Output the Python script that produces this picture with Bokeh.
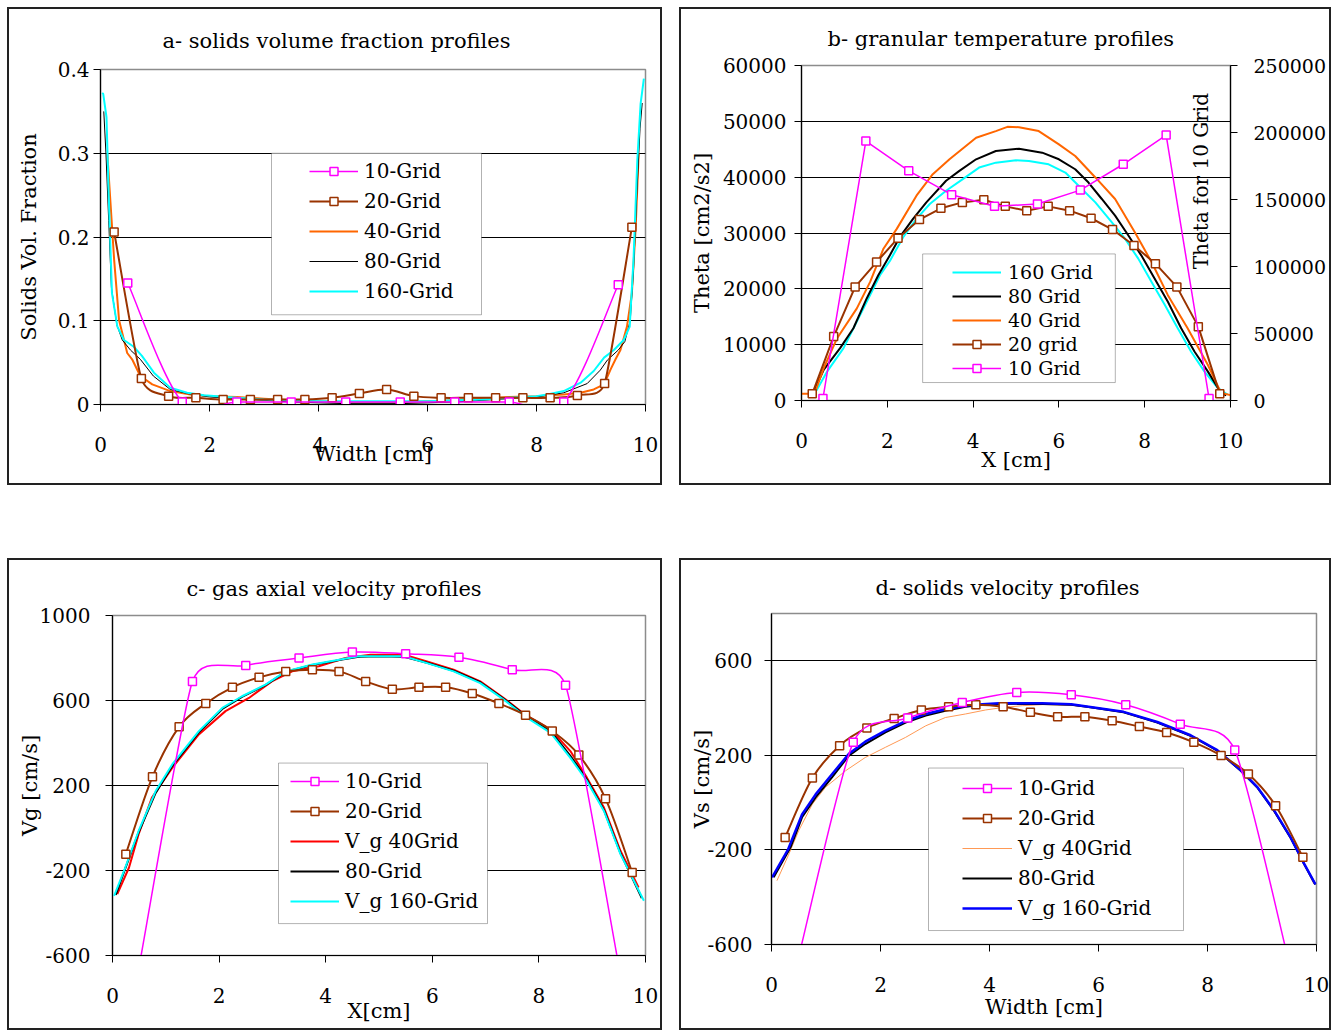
import math
from bokeh.plotting import figure
from bokeh.models import (Range1d, LinearAxis, FixedTicker, CustomJSTickFormatter, Legend,
                          LegendItem, BoxAnnotation, Label, ColumnDataSource, Spacer, Title)
from bokeh.layouts import row, column
from bokeh.embed import file_html
from bokeh.resources import INLINE

FONT = "DejaVu Serif"

# ---------------------------------------------------------------- data
X10 = [0.5, 1.5, 2.5, 3.5, 4.5, 5.5, 6.5, 7.5, 8.5, 9.5]
X20 = [0.25, 0.75, 1.25, 1.75, 2.25, 2.75, 3.25, 3.75, 4.25, 4.75,
       5.25, 5.75, 6.25, 6.75, 7.25, 7.75, 8.25, 8.75, 9.25, 9.75]

# a - solids volume fraction
A_Y10 = [0.145, 0.003, 0.003, 0.003, 0.003, 0.003, 0.003, 0.003, 0.003, 0.143]
A_Y20 = [0.206, 0.031, 0.0099, 0.008, 0.006, 0.006, 0.006, 0.006, 0.008, 0.013,
         0.018, 0.010, 0.008, 0.008, 0.008, 0.008, 0.008, 0.0107, 0.025, 0.2115]
A_X40 = [0.125, 0.25, 0.34, 0.49, 0.58, 0.73, 0.95, 1.28, 1.65, 2.0, 2.5, 3.0, 3.5, 4.0,
         4.5, 5.0, 5.5, 6.0, 6.5, 7.0, 7.5, 8.0, 8.5, 8.81, 9.05, 9.24, 9.36, 9.45, 9.54,
         9.66, 9.75, 9.82, 9.875]
A_Y40 = [0.30, 0.173, 0.101, 0.0615, 0.054, 0.034, 0.024, 0.016, 0.012, 0.010, 0.009, 0.007,
         0.005, 0.004, 0.003, 0.003, 0.003, 0.004, 0.005, 0.007, 0.009, 0.010, 0.012, 0.014,
         0.018, 0.024, 0.042, 0.054, 0.065, 0.093, 0.133, 0.212, 0.30]
A_X80 = [0.06, 0.1, 0.15, 0.2, 0.3, 0.4, 0.55, 0.73, 0.97, 1.28, 1.6, 2.0, 2.5, 3.0, 3.5,
         4.0, 4.5, 5.0, 5.5, 6.0, 6.5, 7.0, 7.5, 8.0, 8.5, 8.93, 9.17, 9.3, 9.5, 9.62,
         9.72, 9.78, 9.84, 9.9, 9.94]
A_Y80 = [0.35, 0.30, 0.22, 0.14, 0.095, 0.077, 0.065, 0.054, 0.034, 0.018, 0.013, 0.009,
         0.007, 0.005, 0.003, 0.002, 0.001, 0.001, 0.001, 0.002, 0.003, 0.005, 0.007, 0.009,
         0.014, 0.025, 0.041, 0.053, 0.065, 0.075, 0.10, 0.16, 0.25, 0.33, 0.36]
A_X160 = [0.03, 0.05, 0.11, 0.15, 0.21, 0.31, 0.43, 0.61, 0.76, 0.98, 1.28, 1.59, 1.9, 2.5,
          3.0, 3.5, 4.0, 4.5, 5.0, 5.5, 6.0, 6.5, 7.0, 7.5, 8.0, 8.2, 8.5, 8.81, 9.05, 9.24,
          9.42, 9.6, 9.71, 9.78, 9.85, 9.91, 9.97]
A_Y160 = [0.372, 0.371, 0.343, 0.252, 0.133, 0.093, 0.077, 0.069, 0.058, 0.038, 0.020, 0.014,
          0.011, 0.008, 0.006, 0.005, 0.004, 0.004, 0.004, 0.004, 0.004, 0.005, 0.006, 0.008,
          0.010, 0.012, 0.016, 0.026, 0.040, 0.056, 0.065, 0.077, 0.093, 0.173, 0.292, 0.359,
          0.389]

# b - granular temperature
B_Y10 = [1500, 193600, 171400, 153600, 144900, 146600, 157000, 176300, 198100, 1500]
B_Y20 = [1190, 11450, 20350, 24800, 29080, 32400, 34420, 35480, 35960, 34770,
         34000, 34770, 34000, 32640, 30620, 27770, 24510, 20350, 13230, 1190]
B_X40 = [-0.1, 0.3, 0.52, 0.83, 1.29, 1.6, 1.91, 2.22, 2.68, 3.06, 3.45, 4.07, 4.53, 4.8,
         5.07, 5.53, 6.0, 6.38, 6.85, 7.31, 7.77, 8.16, 8.54, 9.0, 9.47, 9.78, 10.1]
B_Y40 = [1200, 1200, 5820, 11160, 16500, 21240, 27180, 30740, 36680, 40530, 43200, 47050,
         48250, 49010, 48950, 48250, 45880, 43800, 39950, 36090, 30150, 24800, 18870, 12940,
         6410, 1370, 770]
B_X80 = [0.3, 0.52, 0.9, 1.21, 1.52, 1.79, 2.06, 2.29, 2.6, 2.91, 3.37, 3.68, 4.07, 4.53,
         5.07, 5.61, 6.0, 6.38, 6.69, 7.0, 7.31, 7.62, 7.92, 8.23, 8.54, 8.85, 9.16, 9.47,
         9.78, 9.9]
B_Y80 = [1800, 5520, 9380, 12940, 18280, 22430, 26000, 29250, 32520, 35490, 39350, 41130,
         43200, 44690, 45100, 44390, 43200, 41420, 39040, 36090, 33120, 29550, 26000, 21840,
         17680, 12940, 8780, 5220, 1370, 900]
B_X160 = [0.35, 0.6, 0.98, 1.29, 1.6, 1.83, 2.06, 2.37, 2.68, 2.99, 3.37, 3.76, 4.14, 4.53,
          5.0, 5.3, 5.76, 6.15, 6.46, 6.85, 7.23, 7.54, 7.85, 8.16, 8.47, 8.77, 9.08, 9.39,
          9.7, 9.93]
B_Y160 = [1800, 5220, 9380, 14120, 18870, 22430, 25000, 29250, 32520, 35190, 37560, 39640,
          41720, 42600, 43020, 42900, 42300, 40830, 38450, 35490, 31930, 28970, 25410, 21240,
          17090, 12940, 8780, 5220, 2260, 1070]

# c - gas axial velocity
C_Y10 = [-650, 690, 765, 800, 828, 820, 803, 745, 672, -650]
C_Y20 = [-123, 241, 476, 586, 662, 709, 737, 745, 737, 690,
         653, 662, 662, 633, 586, 531, 456, 343, 138, -209]
C_X40 = [0.09, 0.31, 0.49, 0.74, 1.12, 1.62, 2.12, 2.56, 2.99, 3.37, 3.87, 4.37, 4.84, 5.47,
         5.9, 6.4, 6.9, 7.34, 7.78, 8.22, 8.59, 8.9, 9.22, 9.53, 9.87]
C_Y40 = [-311, -186, -29, 143, 283, 440, 550, 612, 690, 737, 761, 800, 815, 815, 784, 745,
         690, 612, 526, 464, 362, 237, 96, -107, -280]
C_X80 = [0.06, 0.24, 0.49, 0.81, 1.12, 1.62, 2.06, 2.43, 2.87, 3.25, 3.75, 4.25, 4.62, 5.0,
         5.47, 5.9, 6.4, 6.9, 7.34, 7.78, 8.22, 8.59, 8.9, 9.22, 9.53, 9.93]
C_Y80 = [-315, -190, -20, 165, 292, 450, 560, 617, 672, 735, 767, 790, 806, 808, 806, 778,
         740, 686, 608, 522, 456, 340, 228, 85, -118, -330]
C_X160 = [0.03, 0.24, 0.49, 0.81, 1.12, 1.62, 2.06, 2.43, 2.87, 3.25, 3.75, 4.25, 4.62, 5.0,
          5.47, 5.9, 6.4, 6.9, 7.34, 7.78, 8.22, 8.59, 8.9, 9.22, 9.53, 9.97]
C_Y160 = [-319, -186, -14, 174, 299, 456, 565, 620, 675, 737, 769, 792, 808, 808, 808, 776,
          737, 682, 604, 518, 448, 330, 221, 80, -123, -342]

# d - solids velocity
D_Y10 = [-650, 255, 358, 424, 466, 456, 414, 332, 223, -680]
D_Y20 = [-147, 104, 241, 316, 356, 392, 406, 414, 406, 382,
         363, 363, 346, 322, 297, 255, 199, 121, -13, -231]
D_X40 = [0.1, 0.32, 0.5, 0.75, 0.99, 1.36, 1.72, 2.09, 2.46, 2.83, 3.19, 3.56, 3.93, 4.23,
         4.6, 5.0, 5.5, 6.0, 6.5, 7.0, 7.5, 8.0, 8.5, 9.0, 9.5, 9.75, 9.95]
D_Y40 = [-330, -217, -118, -6, 65, 135, 191, 234, 276, 325, 360, 375, 392, 402, 410, 415,
         412, 400, 380, 345, 300, 245, 160, 40, -140, -250, -344]
D_X80 = [0.04, 0.35, 0.56, 0.81, 1.11, 1.42, 1.72, 2.09, 2.46, 2.83, 3.19, 3.56, 3.87, 4.17,
         4.6, 4.97, 5.5, 5.85, 6.46, 7.08, 7.69, 8.18, 8.61, 8.91, 9.22, 9.52, 9.77, 9.98]
D_Y80 = [-316, -189, -62, 22, 107, 199, 248, 297, 339, 368, 389, 406, 414, 417, 418, 417,
         414, 403, 382, 339, 283, 220, 135, 65, -34, -147, -259, -346]
D_X160 = [0.01, 0.3, 0.56, 0.81, 1.11, 1.42, 1.72, 2.09, 2.46, 2.83, 3.19, 3.56, 3.87, 4.17,
          4.6, 4.97, 5.5, 5.85, 6.46, 7.08, 7.69, 8.18, 8.61, 8.91, 9.22, 9.52, 9.77, 9.98]
D_Y160 = [-316, -200, -50, 35, 120, 207, 258, 305, 345, 375, 395, 410, 416, 420, 420, 420,
          416, 405, 384, 341, 285, 222, 137, 67, -32, -145, -257, -346]

X_TICKS = [0, 2, 4, 6, 8, 10]
A_TICKS = [0, 0.1, 0.2, 0.3, 0.4]
B_TICKS = [0, 10000, 20000, 30000, 40000, 50000, 60000]
B_RTICKS = [0, 50000, 100000, 150000, 200000, 250000]
C_TICKS = [-600, -200, 200, 600, 1000]
D_TICKS = [-600, -200, 200, 600]

MAG, BRN, ORG, CYN = "#FF00FF", "#993300", "#FF6600", "#00FFFF"
RED, BLU, LOR = "#FF0000", "#0000FF", "#FF9955"
NAN = float("nan")


# ---------------------------------------------------------------- helpers
class Geo:
    def __init__(self, fig, frame, xr, yr):
        self.fig, self.frame, self.xr, self.yr = fig, frame, xr, yr
        fl, fr, ft, fb = frame
        self.kx = (fr - fl) / (xr[1] - xr[0])
        self.ky = (fb - ft) / (yr[1] - yr[0])

    def dx(self, px):
        return self.xr[0] + (px - self.frame[0]) / self.kx

    def dy(self, py):
        return self.yr[0] + (self.frame[3] - py) / self.ky


def make_fig(G):
    fx0, fy0, w, h = G.fig
    fl, fr, ft, fb = G.frame
    p = figure(width=w, height=h, x_range=Range1d(*G.xr), y_range=Range1d(*G.yr),
               output_backend="svg", toolbar_location=None, title=None,
               min_border_left=fl - fx0, min_border_right=fx0 + w - fr,
               min_border_top=ft - fy0, min_border_bottom=fy0 + h - fb,
               background_fill_color="white", border_fill_color="white",
               outline_line_color="#8c8c8c", outline_line_width=1.5)
    try:
        p.frame_align = False
    except Exception:
        pass
    p.xgrid.visible = False
    return p


def boxed(p):
    return column(p, styles={"border": "2px solid #222222"})


def style_axis(ax, ticks, standoff, size="20px"):
    ax.ticker = FixedTicker(ticks=ticks)
    ax.formatter = CustomJSTickFormatter(code="return tick.toString();")
    ax.major_tick_in = 0
    ax.major_tick_out = 7
    ax.minor_tick_line_color = None
    ax.axis_line_color = "black"
    ax.axis_line_width = 1.2
    ax.major_tick_line_color = "black"
    ax.major_label_text_font = FONT
    ax.major_label_text_font_size = size
    ax.major_label_text_color = "black"
    ax.major_label_standoff = standoff


def axis_title(ax, text, standoff, size="21px"):
    ax.axis_label = text
    ax.axis_label_standoff = standoff
    ax.axis_label_text_font = FONT
    ax.axis_label_text_font_size = size
    ax.axis_label_text_font_style = "normal"
    ax.axis_label_text_color = "black"


def chart_title(p, text, offset, standoff):
    p.add_layout(Title(text=text, align="left", offset=offset, standoff=standoff,
                       text_font=FONT, text_font_size="21px", text_font_style="normal",
                       text_color="black"), "above")


def grid(p, ticks):
    p.ygrid.ticker = FixedTicker(ticks=ticks)
    p.ygrid.grid_line_color = "black"
    p.ygrid.grid_line_width = 1


def excel_smooth(xs, ys, kx, ky):
    P = [(x * kx, y * ky) for x, y in zip(xs, ys)]
    n = len(P)
    dist = lambda a, b: math.hypot(a[0] - b[0], a[1] - b[1])
    T = []
    for i in range(n):
        prv = P[i - 1] if i > 0 else P[i]
        nxt = P[i + 1] if i < n - 1 else P[i]
        d01, d12, d02 = dist(prv, P[i]), dist(P[i], nxt), dist(prv, nxt)
        f = 1.0 / 6.0
        if d02 > 0:
            m = min(d for d in (d01, d12) if d > 0)
            if d02 / 6.0 > m / 2.0:
                f = m / (2.0 * d02)
        T.append(((nxt[0] - prv[0]) * f, (nxt[1] - prv[1]) * f))
    seg = {k: [] for k in ("x0", "y0", "x1", "y1", "cx0", "cy0", "cx1", "cy1")}
    for i in range(n - 1):
        seg["x0"].append(P[i][0] / kx)
        seg["y0"].append(P[i][1] / ky)
        seg["cx0"].append((P[i][0] + T[i][0]) / kx)
        seg["cy0"].append((P[i][1] + T[i][1]) / ky)
        seg["cx1"].append((P[i + 1][0] - T[i + 1][0]) / kx)
        seg["cy1"].append((P[i + 1][1] - T[i + 1][1]) / ky)
        seg["x1"].append(P[i + 1][0] / kx)
        seg["y1"].append(P[i + 1][1] / ky)
    return seg


def smooth_series(p, G, xs, ys, color, width):
    seg = excel_smooth(xs, ys, G.kx, G.ky)
    p.bezier(source=ColumnDataSource(seg), x0="x0", y0="y0", x1="x1", y1="y1",
             cx0="cx0", cy0="cy0", cx1="cx1", cy1="cy1", line_color=color, line_width=width)
    key = p.line(x=[NAN], y=[NAN], line_color=color, line_width=width)
    sc = p.scatter(xs, ys, marker="square", size=8, line_color=color, line_width=1.5,
                   fill_color="white")
    return [key, sc]


def add_legend(p, G, entries, box, x_off, y_off, pitch, fsize, gw, standoff):
    l, r, t, b = box
    p.add_layout(BoxAnnotation(left=G.dx(l), right=G.dx(r), top=G.dy(t), bottom=G.dy(b),
                               fill_color="white", fill_alpha=1.0, line_color="black",
                               line_width=1))
    items = [LegendItem(label=lab, renderers=rs) for lab, rs in entries]
    leg = Legend(items=items, location=(x_off, y_off), padding=0, margin=0, spacing=0,
                 border_line_color=None, background_fill_alpha=0, label_text_font=FONT,
                 label_text_font_size=fsize, label_text_color="black", label_height=pitch,
                 glyph_height=20, glyph_width=gw, label_standoff=standoff)
    p.add_layout(leg)


# ---------------------------------------------------------------- panel a
GA = Geo((9, 9, 651, 474), (100, 645, 68, 404), (0, 10), (0, 0.4))
pa = make_fig(GA)
style_axis(pa.below[0], X_TICKS, 25)
style_axis(pa.left[0], A_TICKS, 4)
axis_title(pa.below[0], "Width [cm]", -13)
axis_title(pa.left[0], "Solids Vol. Fraction", 14)
grid(pa, [0.1, 0.2, 0.3])
chart_title(pa, "a- solids volume fraction profiles", 62, 34)
a40 = pa.line(A_X40, A_Y40, line_color=ORG, line_width=2)
a80 = pa.line(A_X80, A_Y80, line_color="black", line_width=1)
a160 = pa.line(A_X160, A_Y160, line_color=CYN, line_width=2)
a20 = smooth_series(pa, GA, X20, A_Y20, BRN, 2)
a10 = smooth_series(pa, GA, X10, A_Y10, MAG, 1.5)
add_legend(pa, GA, [("10-Grid", a10), ("20-Grid", a20), ("40-Grid", [a40]),
                    ("80-Grid", [a80]), ("160-Grid", [a160])],
           (271, 481, 152, 314), 209, 98, 30, "20px", 49, 6)

# ---------------------------------------------------------------- panel b
GB = Geo((681, 9, 648, 474), (801, 1233, 64, 400), (0, 10), (0, 60000))
pb = make_fig(GB)
pb.extra_y_ranges = {"r": Range1d(0, 250000)}
style_axis(pb.below[0], X_TICKS, 25)
style_axis(pb.left[0], B_TICKS, 8)
axis_title(pb.below[0], "X [cm]", -3)
axis_title(pb.left[0], "Theta [cm2/s2]", 6)
grid(pb, [10000, 20000, 30000, 40000, 50000])
rax = LinearAxis(y_range_name="r")
style_axis(rax, B_RTICKS, 16, size="19px")
pb.add_layout(rax, "right")
chart_title(pb, "b- granular temperature profiles", 26, 30)
b160 = pb.line(B_X160, B_Y160, line_color=CYN, line_width=2)
b80 = pb.line(B_X80, B_Y80, line_color="black", line_width=2)
b40 = pb.line(B_X40, B_Y40, line_color=ORG, line_width=2)
b20l = pb.line(X20, B_Y20, line_color=BRN, line_width=2)
b20s = pb.scatter(X20, B_Y20, marker="square", size=8, line_color=BRN, line_width=1.5,
                  fill_color="white")
b10l = pb.line(X10, B_Y10, line_color=MAG, line_width=1.5, y_range_name="r")
b10s = pb.scatter(X10, B_Y10, marker="square", size=8, line_color=MAG, line_width=1.5,
                  fill_color="white", y_range_name="r")
pb.add_layout(Label(x=GB.dx(1203), y=GB.dy(180), text="Theta for 10 Grid", text_font=FONT,
                    text_font_size="20px", text_align="center", text_baseline="middle",
                    angle=math.pi / 2, text_color="black"))
add_legend(pb, GB, [("160 Grid", [b160]), ("80 Grid", [b80]), ("40 Grid", [b40]),
                    ("20 grid", [b20l, b20s]), ("10 Grid", [b10l, b10s])],
           (923, 1117, 253, 382), 151, 20, 24, "19px", 49, 7)

# ---------------------------------------------------------------- panel c
GC = Geo((9, 560, 651, 468), (112, 645, 614, 955), (0, 10), (-600, 1000))
pc = make_fig(GC)
style_axis(pc.below[0], X_TICKS, 25)
style_axis(pc.left[0], C_TICKS, 15)
axis_title(pc.below[0], "X[cm]", -7)
axis_title(pc.left[0], "Vg [cm/s]", -5)
grid(pc, [-200, 200, 600])
chart_title(pc, "c- gas axial velocity profiles", 74, 29)
c40 = pc.line(C_X40, C_Y40, line_color=RED, line_width=2)
c80 = pc.line(C_X80, C_Y80, line_color="black", line_width=2)
c160 = pc.line(C_X160, C_Y160, line_color=CYN, line_width=2)
c20 = smooth_series(pc, GC, X20, C_Y20, BRN, 2)
c10 = smooth_series(pc, GC, X10, C_Y10, MAG, 1.5)
add_legend(pc, GC, [("10-Grid", c10), ("20-Grid", c20), ("V_g 40Grid", [c40]),
                    ("80-Grid", [c80]), ("V_g 160-Grid", [c160])],
           (278, 487, 762, 923), 178, 39, 30, "20px", 49, 6)

# ---------------------------------------------------------------- panel d
GD = Geo((681, 560, 648, 468), (771, 1316, 612, 944), (0, 10), (-600, 800))
pd_ = make_fig(GD)
style_axis(pd_.below[0], X_TICKS, 25)
style_axis(pd_.left[0], D_TICKS, 12)
axis_title(pd_.below[0], "Width [cm]", 0)
axis_title(pd_.left[0], "Vs [cm/s]", -9)
grid(pd_, [-200, 200, 600])
chart_title(pd_, "d- solids velocity profiles", 104, 27)
d40 = pd_.line(D_X40, D_Y40, line_color=LOR, line_width=1)
d80 = pd_.line(D_X80, D_Y80, line_color="black", line_width=2)
d160 = pd_.line(D_X160, D_Y160, line_color=BLU, line_width=2.5)
d20 = smooth_series(pd_, GD, X20, D_Y20, BRN, 2)
d10 = smooth_series(pd_, GD, X10, D_Y10, MAG, 1.5)
add_legend(pd_, GD, [("10-Grid", d10), ("20-Grid", d20), ("V_g 40Grid", [d40]),
                     ("80-Grid", [d80]), ("V_g 160-Grid", [d160])],
           (928, 1183, 767, 930), 191, 21, 30, "20px", 50, 6)

layout = column(Spacer(height=7),
                row(Spacer(width=7), boxed(pa), Spacer(width=17), boxed(pb)),
                Spacer(height=73),
                row(Spacer(width=7), boxed(pc), Spacer(width=17), boxed(pd_)))
open("out.html", "w").write(file_html(layout, INLINE))
